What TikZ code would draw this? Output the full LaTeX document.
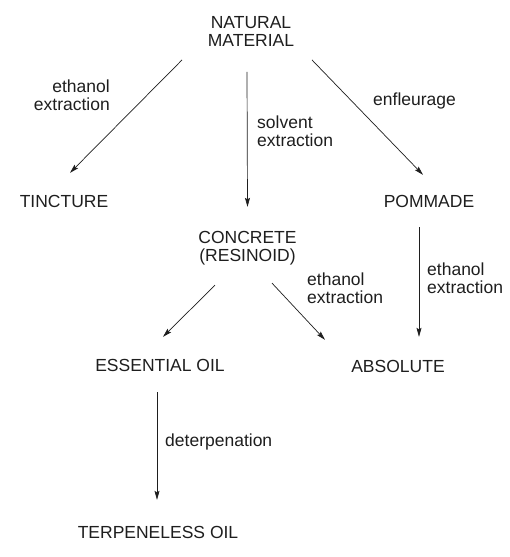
\documentclass[tikz,border=0pt]{standalone}
\usepackage{fontspec}
\setmainfont{Liberation Sans}
\usetikzlibrary{arrows.meta}
\definecolor{ink}{HTML}{1E1E1E}
\begin{document}
\begin{tikzpicture}[x=1pt, y=-1pt,
  every node/.style={inner sep=0pt, text=ink, font=\fontsize{17.5}{18}\selectfont},
  flow/.style={draw=ink, line width=0.7pt, -{Stealth[length=9pt, width=5pt, inset=1.5pt]}}]
\useasboundingbox (0,0) rectangle (509,557);
% products
\node[align=center] (natural) at (251,31){NATURAL\\MATERIAL};
\node (tincture) at (64,201){TINCTURE};
\node (pommade) at (429,201){POMMADE};
\node[align=center] (concrete) at (247.5,248){CONCRETE\\(RESINOID)};
\node (essential) at (160,365){ESSENTIAL OIL};
\node (absolute) at (398,366){ABSOLUTE};
\node (terpeneless) at (158,532){TERPENELESS OIL};
% processes
\node[align=right, anchor=east] (ethtin) at (110,95.5){ethanol\\extraction};
\node[align=left, anchor=west] (solv) at (257,131.5){solvent\\extraction};
\node[anchor=base west] (enfl) at (373,105){enfleurage};
\node[align=left, anchor=west] (ethabs) at (307,288){ethanol\\extraction};
\node[align=left, anchor=west] (ethpom) at (427,278){ethanol\\extraction};
\node[anchor=base west] (deterp) at (165,446){deterpenation};
% arrows
\draw[flow] ([shift={(-69,13.75)}]natural.south) -- ([shift={(6,-21.75)}]tincture.north);
\draw[flow] ([shift={(-4,25.75)}]natural.south) -- ([shift={(0,-24)}]concrete.north);
\draw[flow] ([shift={(61,13.75)}]natural.south) -- ([shift={(-6,-19.75)}]pommade.north);
\draw[flow] ([shift={(-10,19.75)}]pommade.south) -- ([shift={(21,-22.75)}]absolute.north);
\draw[flow] ([shift={(-32.5,20)}]concrete.south) -- ([shift={(3,-21.75)}]essential.north);
\draw[flow] ([shift={(24.5,18)}]concrete.south) -- ([shift={(-73,-19.75)}]absolute.north);
\draw[flow] ([shift={(-3,20.75)}]essential.south) -- ([shift={(-1,-25.75)}]terpeneless.north);
\end{tikzpicture}
\end{document}
